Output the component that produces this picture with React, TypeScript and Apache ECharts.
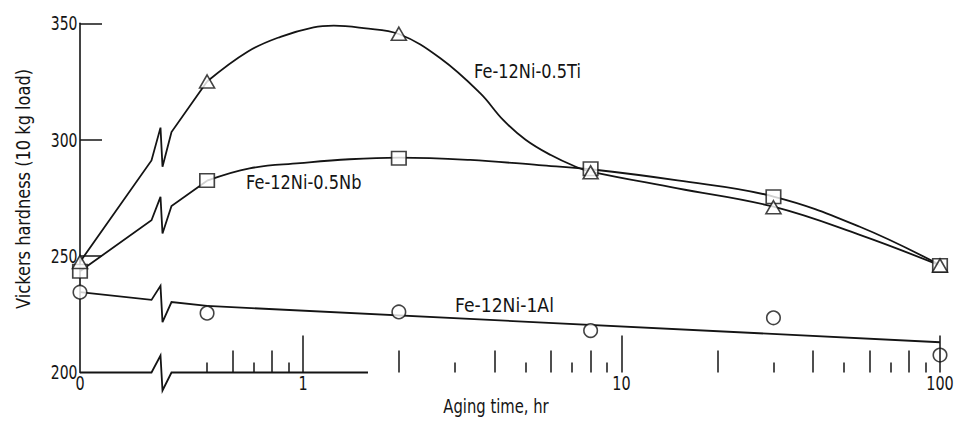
import React, { useEffect, useRef } from "react";
import * as echarts from "echarts";

// Aging times (hr) and measured Vickers hardness for each alloy
const agingHours = [0, 0.5, 2, 8, 30, 100];
const tiHardness = [247.5, 325, 345.5, 286, 271, 246];
const nbHardness = [243.5, 282.5, 292, 287.5, 275.5, 246];
const alHardness = [234.5, 225.5, 226, 218, 223.5, 207.5];

// Faired curves through the measurements (hr, hardness)
const tiCurveHours = [0.5, 0.67, 0.85, 1.08, 1.25, 1.55, 2, 2.7, 3.6, 4.25, 5, 6, 7.1, 8, 15, 30, 56, 100];
const tiCurveHardness = [325, 337.8, 344.2, 348.3, 349, 347.9, 345.4, 335, 320, 308.5, 300, 293.4, 288.7, 286.3, 279.1, 271.2, 259.1, 246];
const nbCurveHours = [0.5, 0.68, 0.98, 1.4, 2, 3.35, 5.5, 8, 15, 30, 56, 100];
const nbCurveHardness = [282.4, 287.7, 289.9, 291.6, 292.3, 291.3, 289.1, 287.3, 282.5, 275.6, 262.6, 246.2];
const alCurveHours = [0.5, 100];
const alCurveHardness = [228.6, 213];

// Axis ticks and labels
const xLabelHours = [0, 1, 10, 100];
const xTickLabels = ["0", "1", "10", "100"];
const yLabelValues = [200, 250, 300, 350];
const decadeTicks = [1, 10, 100];
const evenMinorTicks = [0.6, 0.8, 2, 4, 6, 8, 20, 40, 60, 80];
const oddMinorTicks = [0.5, 0.7, 0.9, 3, 5, 7, 9, 30, 50, 70, 90];
const yTicks = [250, 300, 350];
const baselineEndHours = 1.6;

const INK = "#141414";
const FONT = "'DejaVu Sans', sans-serif";

// zero time sits to the left of the broken log axis
const ZERO_U = -0.7;
const BREAK_U = -0.441;
const toU = (h: number) => (h === 0 ? ZERO_U : Math.log10(h));

const pairs = (hours: number[], vals: number[]) => hours.map((h, i) => [toU(h), vals[i]]);

function brokenSegment(rows: number[][], up: number, down: number) {
  return {
    type: "custom",
    coordinateSystem: "cartesian2d",
    clip: false,
    silent: true,
    z: 3,
    data: rows,
    renderItem: (_params: any, api: any) => {
      const p0 = api.coord([api.value(0), api.value(1)]);
      const p1 = api.coord([api.value(2), api.value(3)]);
      const xb = api.coord([BREAK_U, 200])[0];
      const yAt = (x: number) => p0[1] + ((p1[1] - p0[1]) * (x - p0[0])) / (p1[0] - p0[0]);
      return {
        type: "polyline",
        shape: {
          points: [
            p0,
            [xb - 11, yAt(xb - 11)],
            [xb - 2, yAt(xb - 2) - up],
            [xb, yAt(xb) + down],
            [xb + 9, yAt(xb + 9)],
            p1,
          ],
        },
        style: { stroke: INK, lineWidth: 1.8, fill: "none" },
      };
    },
  };
}

function tickAxis(values: number[], length: number, extra: any = {}) {
  return {
    type: "value",
    position: "bottom",
    offset: 0,
    min: ZERO_U,
    max: 2,
    axisLine: { show: false, onZero: false },
    splitLine: { show: false },
    axisTick: {
      show: true,
      inside: true,
      length,
      customValues: values.map(toU),
      lineStyle: { color: INK, width: 1.5 },
    },
    axisLabel: { show: false },
    ...extra,
  };
}

function curve(hours: number[], vals: number[]) {
  return {
    type: "line",
    data: pairs(hours, vals),
    smooth: 0.4,
    showSymbol: false,
    clip: false,
    silent: true,
    z: 3,
    lineStyle: { color: INK, width: 1.8 },
  };
}

function markers(vals: number[], symbol: string, size: any, z: number) {
  return {
    type: "scatter",
    data: pairs(agingHours, vals),
    symbol,
    symbolSize: size,
    clip: false,
    silent: true,
    z,
    itemStyle: { color: "#fff", borderColor: INK, borderWidth: 1.6 },
  };
}

// condensed lettering: DejaVu Sans squeezed horizontally
const textEl = (id: string, text: string, x: number, y: number, align: string, squeeze: number, rotation = 0) => ({
  id,
  type: "text",
  x,
  y,
  rotation,
  scaleX: squeeze,
  scaleY: 1,
  silent: true,
  z: 20,
  style: {
    text,
    fill: INK,
    font: `20px ${FONT}`,
    textAlign: align,
    textVerticalAlign: "middle",
  },
});

export default function App() {
  const ref = useRef<HTMLDivElement>(null);

  useEffect(() => {
    if (!ref.current) return;
    const chart = echarts.init(ref.current, null, { renderer: "svg" });

    chart.setOption({
      animation: false,
      backgroundColor: "#fff",
      grid: { left: 80, top: 23.3, width: 860, height: 349.2 },
      xAxis: [
        tickAxis(decadeTicks, 37, { z: 10 }),
        tickAxis(evenMinorTicks, 22),
        tickAxis(oddMinorTicks, 10),
      ],
      yAxis: {
        type: "value",
        min: 200,
        max: 350,
        interval: 50,
        axisLine: { show: true, onZero: false, lineStyle: { color: INK, width: 1.6 } },
        splitLine: { show: false },
        axisTick: {
          show: true,
          inside: true,
          length: 22,
          customValues: yTicks,
          lineStyle: { color: INK, width: 1.5 },
        },
        axisLabel: { show: false },
      },
      series: [
        // axis baseline with its break
        brokenSegment([[ZERO_U, 200, toU(baselineEndHours), 200]], 17, 18),
        // zero-time legs of each curve, broken at the axis break
        brokenSegment([[ZERO_U, tiHardness[0], toU(tiCurveHours[0]), tiCurveHardness[0]]], 20, 22),
        brokenSegment([[ZERO_U, nbHardness[0], toU(nbCurveHours[0]), nbCurveHardness[0]]], 17, 21),
        brokenSegment([[ZERO_U, alHardness[0], toU(alCurveHours[0]), alCurveHardness[0]]], 15, 21),
        curve(tiCurveHours, tiCurveHardness),
        curve(nbCurveHours, nbCurveHardness),
        { ...curve(alCurveHours, alCurveHardness), smooth: false },
        markers(alHardness, "circle", 13.5, 5),
        markers(nbHardness, "rect", [14.5, 13.5], 6),
        markers(tiHardness, "triangle", [15, 13], 7),
      ],
    });

    // tick labels placed through the axes' own scales
    const xBase = chart.convertToPixel({ yAxisIndex: 0 }, 200) as number;
    const xLeft = chart.convertToPixel({ xAxisIndex: 0 }, ZERO_U) as number;
    const xLabels = xLabelHours.map((h, i) =>
      textEl(`xl${i}`, xTickLabels[i], chart.convertToPixel({ xAxisIndex: 0 }, toU(h)) as number, xBase + 11, "center", 0.72)
    );
    const yLabels = yLabelValues.map((v, i) =>
      textEl(`yl${i}`, String(v), xLeft - 2.5, chart.convertToPixel({ yAxisIndex: 0 }, v) as number, "right", 0.7)
    );

    chart.setOption({
      graphic: [
        ...xLabels,
        ...yLabels,
        textEl("yname", "Vickers hardness (10 kg load)", 23, 189, "center", 0.81, Math.PI / 2),
        textEl("xname", "Aging time, hr", 496, 406, "center", 0.74),
        textEl("ti", "Fe-12Ni-0.5Ti", 474, 71, "left", 0.81),
        textEl("nb", "Fe-12Ni-0.5Nb", 246, 182, "left", 0.81),
        textEl("al", "Fe-12Ni-1Al", 455, 305, "left", 0.86),
      ],
    });

    return () => chart.dispose();
  }, []);

  return (
    <div
      ref={ref}
      style={{ position: "fixed", left: 0, top: 0, width: 958, height: 424, background: "#fff" }}
    />
  );
}
